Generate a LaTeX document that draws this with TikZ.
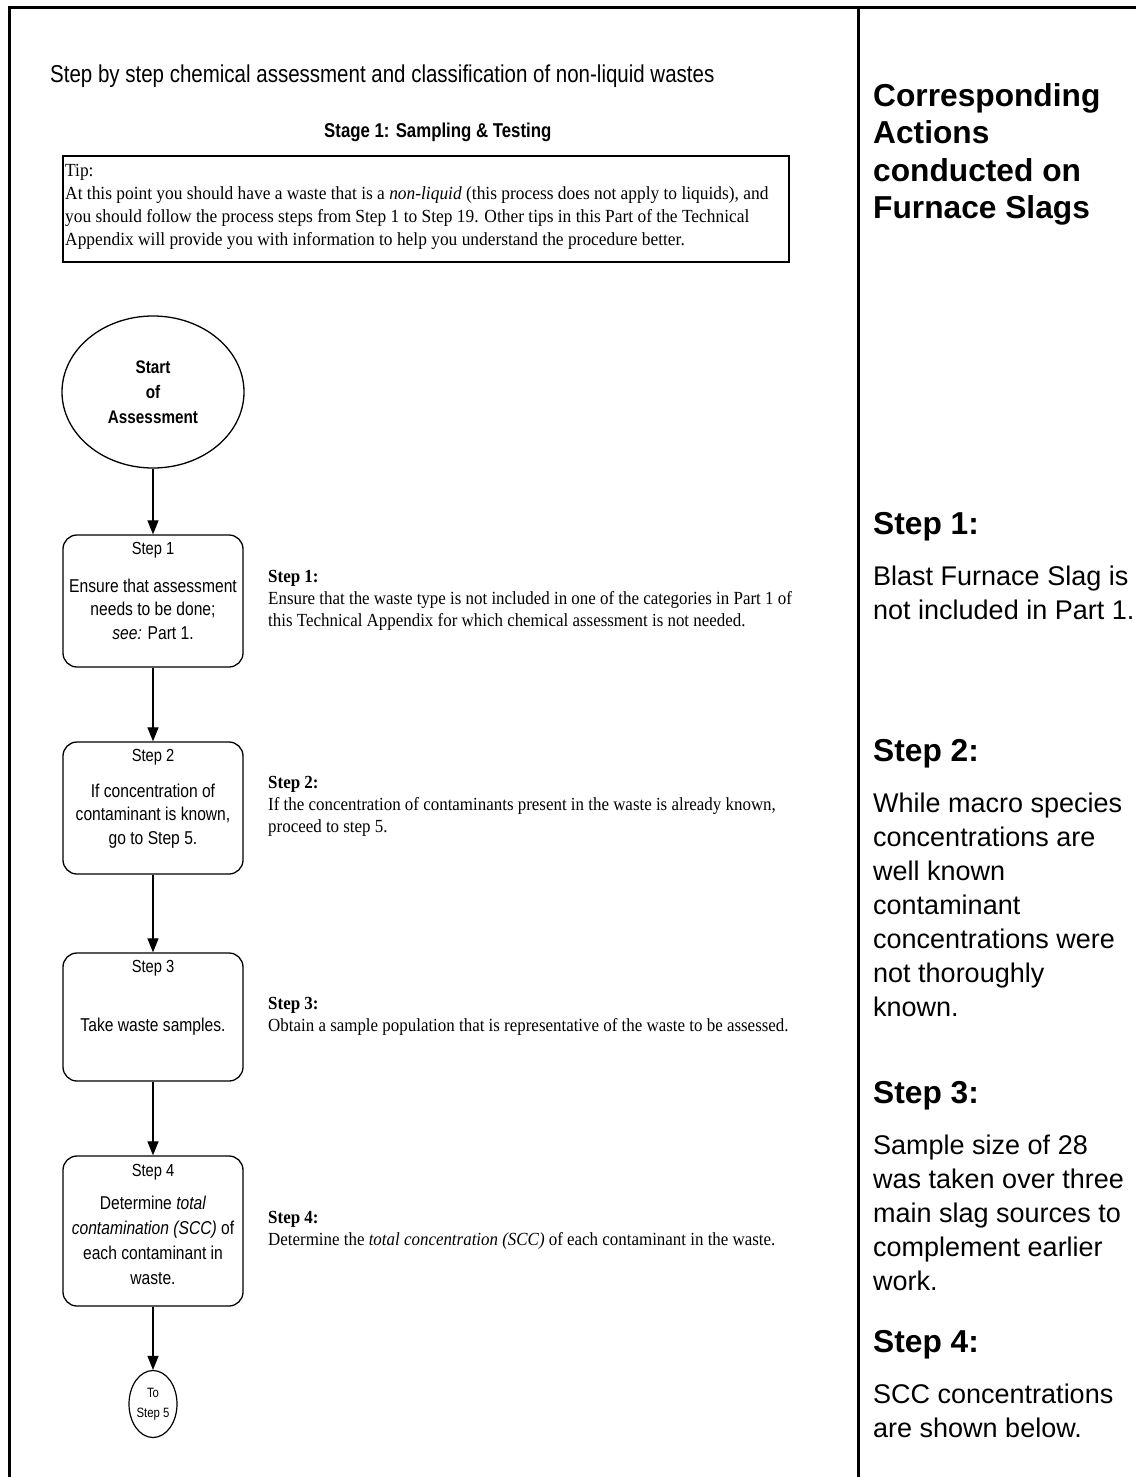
\documentclass[tikz,border=0pt]{standalone}
\usepackage{fontspec}
\setmainfont{Liberation Sans}
\newfontfamily\nsans[FakeStretch=0.84]{Liberation Sans}
\newfontfamily\tserif[FakeStretch=0.915]{Liberation Serif}
\newfontfamily\tipserif[FakeStretch=0.94]{Liberation Serif}
\usetikzlibrary{arrows.meta,shapes.geometric}
\begin{document}
\begin{tikzpicture}[x=1pt,y=-1pt,
  frameline/.style={line width=3pt},
  flowbox/.style={draw, line width=1.3pt, rounded corners=14pt, minimum width=180pt, inner sep=0pt},
  boxlbl/.style={inner sep=0pt, font=\nsans\fontsize{17.5}{21}\selectfont},
  boxtxt/.style={inner sep=0pt, align=center, font=\nsans\fontsize{18.6}{23.5}\selectfont},
  note/.style={inner sep=0pt, anchor=west, align=left, font=\tserif\fontsize{18.5}{22}\selectfont},
  rhead/.style={inner sep=0pt, anchor=north west, align=left, font=\fontsize{31.7}{37.5}\selectfont\bfseries},
  rbody/.style={inner sep=0pt, anchor=north west, align=left, font=\fontsize{27}{34}\selectfont},
  arr/.style={line width=1.2pt, -{Triangle[length=14pt,width=11pt]}}
]
\useasboundingbox (0,0) rectangle (1136,1477);
% frame
\draw[frameline] (9,1477) -- (9,8) -- (1136,8);
\draw[frameline] (858,8) -- (858,1477);

% left column header
\node[anchor=base west, inner sep=0pt, font=\nsans\fontsize{24.4}{28}\selectfont] (title) at (50,83)
  {Step by step chemical assessment and classification of non-liquid wastes};
\node[anchor=base west, inner sep=0pt, font=\nsans\bfseries\fontsize{20}{24}\selectfont] (stage) at (324,138)
  {Stage 1: Sampling \& Testing};
\node[draw, line width=1.5pt, minimum width=726pt, minimum height=106pt, anchor=north west, inner sep=0pt] (tipbox) at (62,155) {};
\node[anchor=north west, inner sep=0pt, align=left, font=\tipserif\fontsize{18.5}{23}\selectfont] (tiptext) at (65,159.9)
  {\strut Tip:\\
   At this point you should have a waste that is a \textit{non-liquid} (this process does not apply to liquids), and\\
   you should follow the process steps from Step 1 to Step 19. Other tips in this Part of the Technical\\
   Appendix will provide you with information to help you understand the procedure better.};

% flow chart
\node[draw, ellipse, line width=1.3pt, minimum width=182pt, minimum height=152pt, inner sep=0pt, align=center,
      font=\nsans\bfseries\fontsize{18.2}{25}\selectfont] (start) at (153,392) {Start\\of\\Assessment};

\node[flowbox, minimum height=132pt] (s1) at (153,601) {};
\node[boxlbl] (s1l) at (153,550) {Step 1};
\node[boxtxt] (s1t) at (153,609) {Ensure that assessment\\needs to be done;\\\textit{see:} Part 1.};

\node[flowbox, minimum height=132pt] (s2) at (153,808) {};
\node[boxlbl] (s2l) at (153,757) {Step 2};
\node[boxtxt] (s2t) at (153,816) {If concentration of\\contaminant is known,\\go to Step 5.};

\node[flowbox, minimum height=128pt] (s3) at (153,1017) {};
\node[boxlbl] (s3l) at (153,968) {Step 3};
\node[boxtxt] (s3t) at (153,1027) {Take waste samples.};

\node[flowbox, minimum height=150pt] (s4) at (153,1231) {};
\node[boxlbl] (s4l) at (153,1172) {Step 4};
\node[boxtxt, font=\nsans\fontsize{18.6}{25}\selectfont] (s4t) at (153,1240)
  {Determine \textit{total}\\\textit{contamination (SCC)} of\\each contaminant in\\waste.};

\node[draw, ellipse, line width=1.2pt, minimum width=48pt, minimum height=67pt, inner sep=0pt, align=center,
      font=\nsans\fontsize{13.5}{20}\selectfont] (to5) at (153,1404) {To\\Step 5};

\draw[arr] (start) -- (s1);
\draw[arr] (s1) -- (s2);
\draw[arr] (s2) -- (s3);
\draw[arr] (s3) -- (s4);
\draw[arr] (s4) -- (to5);

% notes beside the boxes
\node[note] (n1) at (268,600) {\textbf{Step 1:}\\Ensure that the waste type is not included in one of the categories in Part 1 of\\this Technical Appendix for which chemical assessment is not needed.};
\node[note] (n2) at (268,806) {\textbf{Step 2:}\\If the concentration of contaminants present in the waste is already known,\\proceed to step 5.};
\node[note] (n3) at (268,1016) {\textbf{Step 3:}\\Obtain a sample population that is representative of the waste to be assessed.};
\node[note] (n4) at (268,1230) {\textbf{Step 4:}\\Determine the \textit{total concentration (SCC)} of each contaminant in the waste.};

% right column
\node[rhead] (rh0) at (873,79.75) {\strut Corresponding\\Actions\\conducted on\\Furnace Slags};
\node[rhead] (rh1) at (873,507.75) {\strut Step 1:};
\node[rbody] (rb1) at (873,561.2) {\strut Blast Furnace Slag is\\not included in Part 1.};
\node[rhead] (rh2) at (873,734.75) {\strut Step 2:};
\node[rbody] (rb2) at (873,788.2) {\strut While macro species\\concentrations are\\well known\\contaminant\\concentrations were\\not thoroughly\\known.};
\node[rhead] (rh3) at (873,1076.75) {\strut Step 3:};
\node[rbody] (rb3) at (873,1130.2) {\strut Sample size of 28\\was taken over three\\main slag sources to\\complement earlier\\work.};
\node[rhead] (rh4) at (873,1325.75) {\strut Step 4:};
\node[rbody] (rb4) at (873,1379.2) {\strut SCC concentrations\\are shown below.};
\end{tikzpicture}
\end{document}
